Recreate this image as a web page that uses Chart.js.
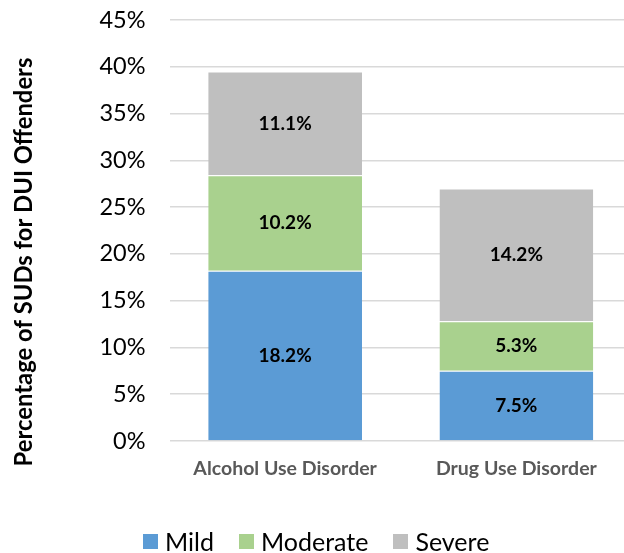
<!DOCTYPE html>
<html>
<head>
<meta charset="utf-8">
<script src="https://cdn.jsdelivr.net/npm/chart.js@4"></script>
<style>
  html, body { margin: 0; padding: 0; background: #fff; overflow: hidden; }
  #wrap { position: relative; width: 632px; height: 553px; }
  #legend { position: absolute; left: 143px; top: 527px; display: flex; gap: 25px;
            font: 25px Lato, "Open Sans", sans-serif; color: #000; line-height: 28px; }
  #legend span.item { display: flex; align-items: center; }
  #legend span.box { display: inline-block; width: 15px; height: 15px; margin-right: 7px; }
</style>
</head>
<body>
<div id="wrap"><canvas id="chart"></canvas><div id="legend"></div></div>
<script>
// Chart data
const categories = ['Alcohol Use Disorder', 'Drug Use Disorder'];
const mild = [18.2, 7.5];
const moderate = [10.2, 5.3];
const severe = [11.1, 14.2];
const seriesNames = ['Mild', 'Moderate', 'Severe'];
const seriesColors = ['#5B9BD5', '#A9D18E', '#BFBFBF'];
const yTitle = 'Percentage of SUDs for DUI Offenders';

const FONT = 'Lato, "Open Sans", sans-serif';

// Value labels in the middle of each segment, plus the rotated y title
const segmentLabels = {
    id: 'segmentLabels',
    afterDatasetsDraw(chart) {
        const ctx = chart.ctx;
        ctx.save();
        ctx.font = 'bold 19px ' + FONT;
        ctx.fillStyle = '#000';
        ctx.textAlign = 'center';
        ctx.textBaseline = 'middle';
        chart.data.datasets.forEach((ds, i) => {
            chart.getDatasetMeta(i).data.forEach((bar, j) => {
                const p = bar.getProps(['x', 'y', 'base'], true);
                ctx.fillText(ds.data[j].toFixed(1) + '%', p.x, (p.y + p.base) / 2);
            });
        });
        ctx.translate(24, 262);
        ctx.rotate(-Math.PI / 2);
        ctx.font = 'bold 23.8px ' + FONT;
        ctx.fillText(yTitle, 0, 0);
        ctx.restore();
    }
};

const chart = new Chart(document.getElementById('chart'), {
    type: 'bar',
    data: {
        labels: categories,
        datasets: [mild, moderate, severe].map((values, i) => ({
            label: seriesNames[i],
            data: values,
            backgroundColor: seriesColors[i],
            borderColor: '#ffffff',
            borderWidth: { top: 1, bottom: 0, left: 0, right: 0 },
            borderSkipped: false,
            categoryPercentage: 1,
            barPercentage: 0.665
        }))
    },
    options: {
        responsive: true,
        maintainAspectRatio: false,
        animation: false,
        layout: { padding: { top: 20, left: 0, right: 0, bottom: 52 } },
        plugins: {
            legend: { display: false },
            tooltip: { enabled: false }
        },
        scales: {
            x: {
                stacked: true,
                grid: { display: false },
                border: { display: false },
                ticks: {
                    font: { family: FONT, size: 19.5, weight: 'bold' },
                    color: '#595959',
                    padding: 8
                },
                afterFit(scale) { scale.height = 60; }
            },
            y: {
                stacked: true,
                min: 0,
                max: 45,
                grid: { color: '#d9d9d9', lineWidth: 1.5, drawTicks: false },
                border: { display: false },
                ticks: {
                    stepSize: 5,
                    font: { family: FONT, size: 23.5 },
                    color: '#000',
                    padding: 24,
                    callback: v => v + '%'
                },
                afterFit(scale) {
                    scale.width = 169.5;
                    scale.paddingTop = 0;
                    scale.paddingBottom = 0;
                }
            }
        }
    },
    plugins: [segmentLabels]
});

// HTML legend built from the series arrays
document.getElementById('legend').innerHTML = seriesNames.map((name, i) =>
    `<span class="item"><span class="box" style="background:${seriesColors[i]}"></span>${name}</span>`
).join('');
</script>
</body>
</html>
